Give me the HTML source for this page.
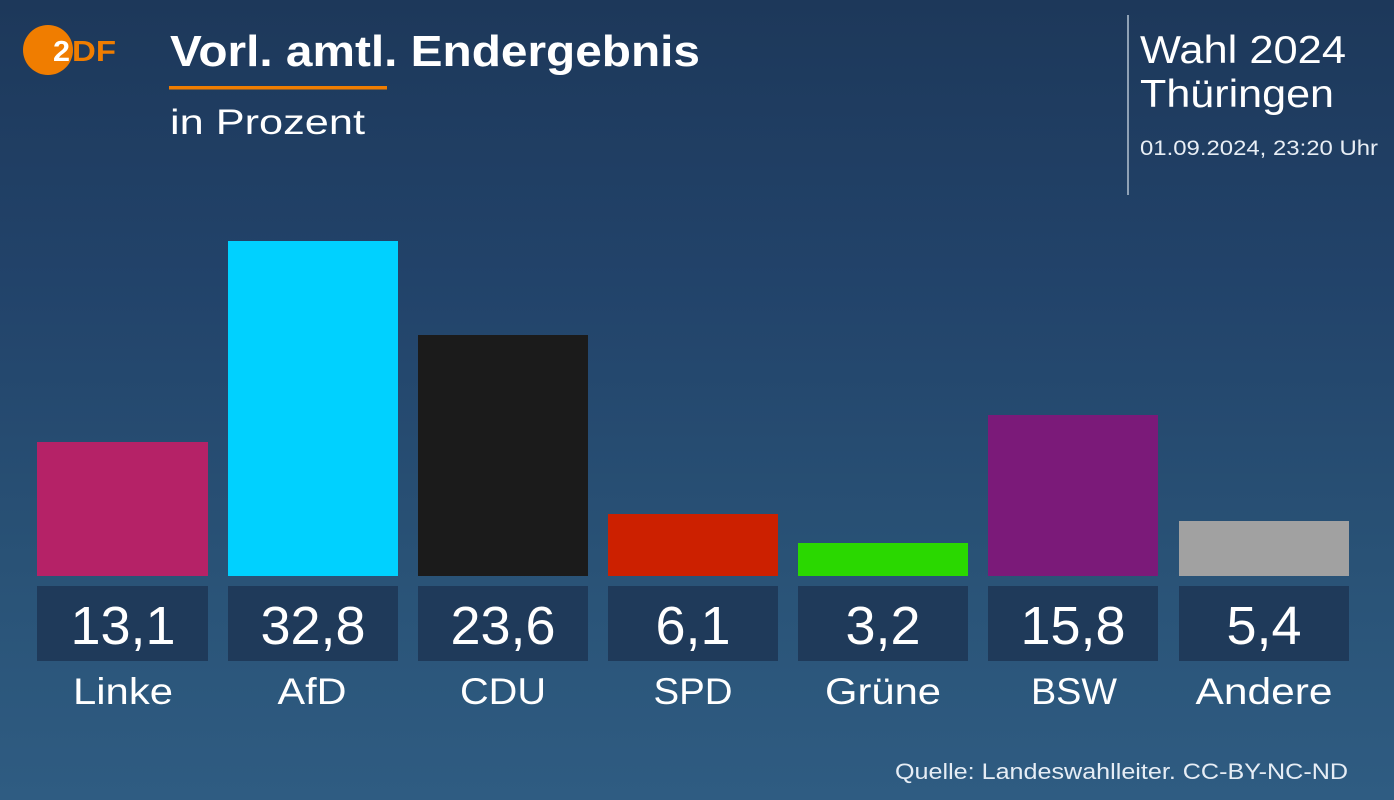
<!DOCTYPE html>
<html>
<head>
<meta charset="utf-8">
<style>
html,body{margin:0;padding:0;width:1394px;height:800px;overflow:hidden;background:#264b6f;}
svg{display:block;}
text{font-family:"Liberation Sans",Arial,sans-serif;fill:#ffffff;}
</style>
</head>
<body>
<svg width="1394" height="800" viewBox="0 0 1394 800" xmlns="http://www.w3.org/2000/svg">
  <defs>
    <linearGradient id="bg" x1="0" y1="0" x2="0" y2="1">
      <stop offset="0" stop-color="#1d385a"/>
      <stop offset="0.35" stop-color="#22436a"/>
      <stop offset="0.7" stop-color="#295276"/>
      <stop offset="1" stop-color="#2f5c82"/>
    </linearGradient>
  </defs>
  <rect x="0" y="0" width="1394" height="800" fill="url(#bg)"/>

  <!-- ZDF logo -->
  <circle cx="48" cy="50" r="25" fill="#f07d00"/>
  <text x="53" y="61" font-size="29" font-weight="bold" textLength="17" lengthAdjust="spacingAndGlyphs" style="fill:#ffffff">2</text>
  <text x="72" y="61" font-size="29" font-weight="bold" textLength="44" lengthAdjust="spacingAndGlyphs" style="fill:#f07d00">DF</text>

  <!-- Title -->
  <text x="170" y="66" font-size="44" font-weight="bold" textLength="530" lengthAdjust="spacingAndGlyphs">Vorl. amtl. Endergebnis</text>
  <rect x="169" y="86" width="218" height="3.5" fill="#f07d00"/>
  <text x="170" y="134" font-size="35" textLength="195" lengthAdjust="spacingAndGlyphs">in Prozent</text>

  <!-- Right header -->
  <rect x="1127" y="15" width="2" height="180" fill="#8fa1b5"/>
  <text x="1140" y="63" font-size="39" textLength="206" lengthAdjust="spacingAndGlyphs">Wahl 2024</text>
  <text x="1140" y="107" font-size="39" textLength="194" lengthAdjust="spacingAndGlyphs">Thüringen</text>
  <text x="1140" y="155" font-size="21" textLength="238" lengthAdjust="spacingAndGlyphs" style="fill:#e8eef5">01.09.2024, 23:20 Uhr</text>

  <!-- Bars -->
  <rect x="37" y="442" width="171" height="134" fill="#b52267"/>
  <rect x="228" y="241" width="170" height="335" fill="#00d1ff"/>
  <rect x="418" y="335" width="170" height="241" fill="#1b1b1b"/>
  <rect x="608" y="514" width="170" height="62" fill="#cc2000"/>
  <rect x="798" y="543" width="170" height="33" fill="#2ad800"/>
  <rect x="988" y="415" width="170" height="161" fill="#7b1a79"/>
  <rect x="1179" y="521" width="170" height="55" fill="#a1a1a1"/>

  <!-- Value boxes -->
  <g fill="#1f3a5a">
    <rect x="37" y="586" width="171" height="75"/>
    <rect x="228" y="586" width="170" height="75"/>
    <rect x="418" y="586" width="170" height="75"/>
    <rect x="608" y="586" width="170" height="75"/>
    <rect x="798" y="586" width="170" height="75"/>
    <rect x="988" y="586" width="170" height="75"/>
    <rect x="1179" y="586" width="170" height="75"/>
  </g>

  <g font-size="54" text-anchor="middle">
    <text x="123" y="644">13,1</text>
    <text x="313" y="644">32,8</text>
    <text x="503" y="644">23,6</text>
    <text x="693" y="644">6,1</text>
    <text x="883" y="644">3,2</text>
    <text x="1073" y="644">15,8</text>
    <text x="1264" y="644">5,4</text>
  </g>

  <g font-size="37" text-anchor="middle">
    <text x="123" y="704" textLength="100" lengthAdjust="spacingAndGlyphs">Linke</text>
    <text x="312" y="704" textLength="69" lengthAdjust="spacingAndGlyphs">AfD</text>
    <text x="503" y="704" textLength="86" lengthAdjust="spacingAndGlyphs">CDU</text>
    <text x="693" y="704" textLength="79" lengthAdjust="spacingAndGlyphs">SPD</text>
    <text x="883" y="704" textLength="116" lengthAdjust="spacingAndGlyphs">Grüne</text>
    <text x="1074" y="704" textLength="86" lengthAdjust="spacingAndGlyphs">BSW</text>
    <text x="1264" y="704" textLength="137" lengthAdjust="spacingAndGlyphs">Andere</text>
  </g>

  <!-- Footer -->
  <text x="895" y="779" font-size="22" textLength="453" lengthAdjust="spacingAndGlyphs" style="fill:#e6edf5">Quelle: Landeswahlleiter. CC-BY-NC-ND</text>
</svg>
</body>
</html>
